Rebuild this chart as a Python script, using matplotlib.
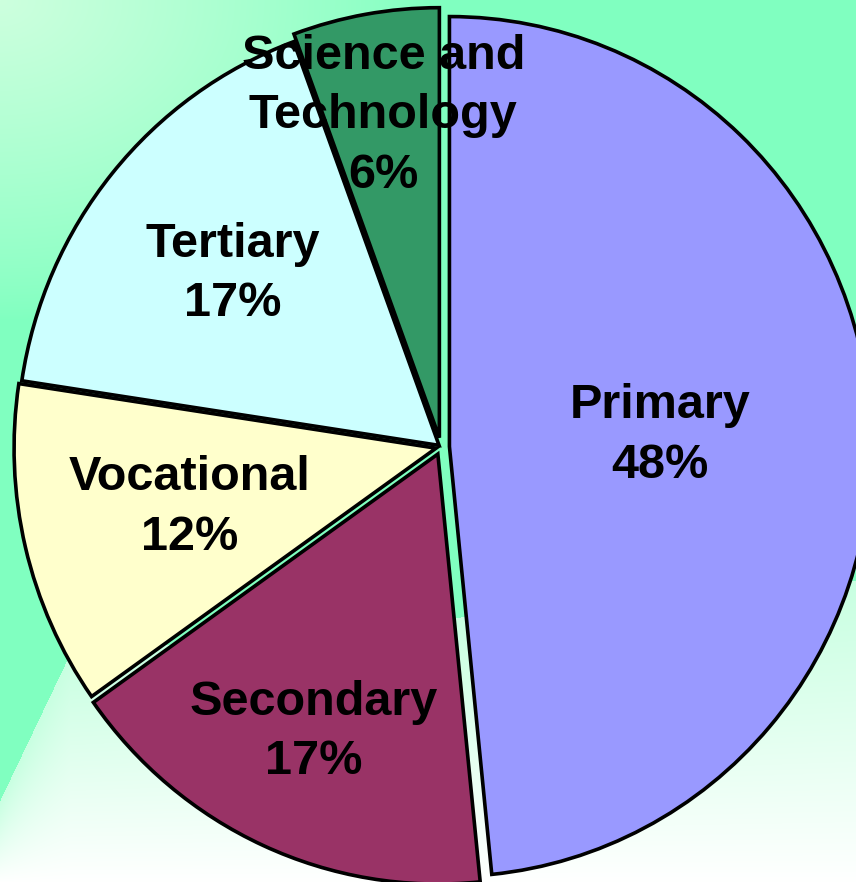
import numpy as np
import matplotlib.pyplot as plt

# shares of spending by education level (labels show rounded values)
categories = ['Primary', 'Secondary', 'Vocational', 'Tertiary', 'Science and\nTechnology']
shares = [48.4, 16.8, 12.2, 17.0, 5.6]
colors = ['#9999FF', '#993366', '#FFFFCC', '#CCFFFF', '#339966']
explode = [0.02, 0.018, 0.012, 0.006, 0.022]
label_dist = [0.50, 0.71, 0.60, 0.63, 0.76]

W, H = 856, 882
fig = plt.figure(figsize=(W / 100, H / 100), dpi=100)

# background: green with lighter top-left corner and pale bottom
yy, xx = np.mgrid[0:H, 0:W].astype(float)
green = np.array([128, 255, 192]) / 255
pale = np.array([205, 255, 222]) / 255
img = np.ones((H, W, 3)) * green
w_tl = np.clip(1 - np.hypot(xx / 430, yy / 320), 0, 1) ** 0.8
img = img * (1 - w_tl[..., None]) + pale * w_tl[..., None]
edge = 580 + 80 * (1 - xx / W) + 140 * np.clip((70 - xx) / 70, 0, 1)
t = np.clip((yy - edge) / (H - edge), 0, 1)
low_top = np.array([200, 255, 225]) / 255
low = low_top * (1 - t[..., None]) + np.array([1.0, 1.0, 1.0]) * t[..., None]
mask = (yy > edge)[..., None]
img = np.where(mask, low, img)
bg = fig.add_axes([0, 0, 1, 1])
bg.imshow(img, aspect='auto')
bg.axis('off')

ax = fig.add_axes([0, 0, 1, 1])
ax.patch.set_alpha(0)
wedges, _ = ax.pie(shares, colors=colors, explode=explode, startangle=90,
                   counterclock=False,
                   wedgeprops=dict(edgecolor='black', linewidth=2.6))

for w, name, val, d in zip(wedges, categories, shares, label_dist):
    ang = np.deg2rad((w.theta1 + w.theta2) / 2)
    cx, cy = w.center
    ax.text(cx + d * np.cos(ang), cy + d * np.sin(ang), f'{name}\n{round(val)}%',
            ha='center', va='center', fontsize=35, fontweight='bold',
            family='Liberation Sans', linespacing=1.42)

# pie is slightly taller than wide in the reference
rx, ry, cxp, cyp = 422, 430, 441, 447
ax.set_aspect('auto')
ax.set_xlim(-cxp / rx, (W - cxp) / rx)
ax.set_ylim(-(H - cyp) / ry, cyp / ry)
ax.axis('off')

fig.savefig('out.png', dpi=100)
